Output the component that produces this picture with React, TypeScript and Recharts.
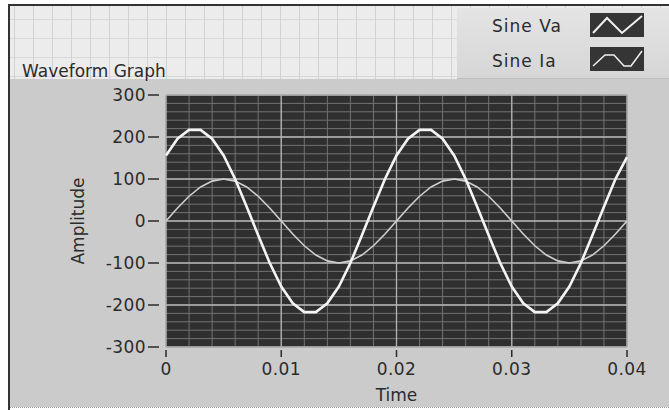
import { LineChart, Line, XAxis, YAxis, CartesianGrid } from "recharts";

const TIME = [
  0, 0.001, 0.002, 0.003, 0.004, 0.005, 0.006, 0.007, 0.008, 0.009,
  0.01, 0.011, 0.012, 0.013, 0.014, 0.015, 0.016, 0.017, 0.018, 0.019,
  0.02, 0.021, 0.022, 0.023, 0.024, 0.025, 0.026, 0.027, 0.028, 0.029,
  0.03, 0.031, 0.032, 0.033, 0.034, 0.035, 0.036, 0.037, 0.038, 0.039,
  0.04,
];
const SINE_VA = [
  156, 196, 217, 217, 196, 156, 100, 34, -34, -100,
  -156, -196, -217, -217, -196, -156, -100, -34, 34, 100,
  156, 196, 217, 217, 196, 156, 100, 34, -34, -100,
  -156, -196, -217, -217, -196, -156, -100, -34, 34, 100,
  152,
];
const SINE_IA = [
  0, 31, 59, 81, 95, 100, 95, 81, 59, 31,
  0, -31, -59, -81, -95, -100, -95, -81, -59, -31,
  0, 31, 59, 81, 95, 100, 95, 81, 59, 31,
  0, -31, -59, -81, -95, -100, -95, -81, -59, -31,
  0,
];
const SERIES_NAMES = ["Sine Va", "Sine Ia"];
const X_TICKS = [0, 0.01, 0.02, 0.03, 0.04];
const X_TICK_LABELS = ["0", "0.01", "0.02", "0.03", "0.04"];
const Y_TICKS = [-300, -200, -100, 0, 100, 200, 300];

const data = TIME.map((t, i) => ({ t, va: SINE_VA[i], ia: SINE_IA[i] }));

// grid: minor every 0.002 s / 20 units
const X_MINOR = Array.from({ length: 21 }, (_, i) => +(i * 0.002).toFixed(3));
const Y_MINOR = Array.from({ length: 31 }, (_, i) => -300 + i * 20);

const FONT = "DejaVu Sans";
const INK = "#2b2b2b";

const YTick = (props: any) => {
  const { x, y, payload } = props;
  return (
    <g>
      <line x1={x - 18} x2={x - 7} y1={y} y2={y} stroke={INK} strokeWidth={1.5} />
      <text x={x - 20} y={y} dy={6} textAnchor="end" fontSize={17} letterSpacing={0.4} fontFamily={FONT} fill={INK}>
        {payload.value}
      </text>
    </g>
  );
};

const XTick = (props: any) => {
  const { x, y, payload } = props;
  const label = X_TICK_LABELS[X_TICKS.indexOf(payload.value)] ?? String(payload.value);
  return (
    <g>
      <line x1={x} x2={x} y1={y + 3} y2={y + 10} stroke={INK} strokeWidth={1.5} />
      <text x={x} y={y + 28} textAnchor="middle" fontSize={17} letterSpacing={0.4} fontFamily={FONT} fill={INK}>
        {label}
      </text>
    </g>
  );
};

const AmpLabel = (props: any) => {
  const vb = props.viewBox || { x: 66, y: 95, width: 100, height: 252 };
  const cx = vb.x + 12;
  const cy = vb.y + vb.height / 2;
  return (
    <text
      transform={`translate(${cx},${cy}) rotate(-90)`}
      textAnchor="middle"
      dominantBaseline="central"
      fontSize={17}
      fontFamily={FONT}
      fill={INK}
    >
      Amplitude
    </text>
  );
};

const TimeLabel = (props: any) => {
  const vb = props.viewBox || { x: 166, y: 347, width: 461, height: 60 };
  return (
    <text x={vb.x + vb.width / 2} y={vb.y + 54} textAnchor="middle" fontSize={17} fontFamily={FONT} fill={INK}>
      Time
    </text>
  );
};

function Swatch({ thin }: { thin?: boolean }) {
  const pts = thin ? "3,19 15,8 24,8 34,19 41,19 52,4" : "3,20 17,5 32,20 52,3";
  return (
    <svg width={54} height={24} style={{ display: "block", background: "#353535" }}>
      <polyline points={pts} fill="none" stroke="#f0f0f0" strokeWidth={thin ? 1.5 : 2} />
    </svg>
  );
}

export default function App() {
  return (
    <div style={{ position: "relative", width: 669, height: 410, overflow: "hidden", background: "#ffffff" }}>
      <style>{"body{margin:0}"}</style>
      {/* front panel grid area */}
      <div
        style={{
          position: "absolute",
          left: 10,
          top: 5,
          width: 659,
          height: 74,
          background: "#ececec",
          backgroundImage:
            "linear-gradient(to right, #d2d2d2 1px, transparent 1px), linear-gradient(to bottom, #d8d8d8 1px, transparent 1px)",
          backgroundSize: "19px 19px",
          backgroundPosition: "4px 14px",
        }}
      />
      {/* graph panel */}
      <div style={{ position: "absolute", left: 10, top: 79, width: 659, height: 328, background: "#cbcbcb" }} />
      <div style={{ position: "absolute", left: 10, top: 407, width: 659, height: 1, borderTop: "1px dotted #9a9a9a" }} />
      {/* frame */}
      <div style={{ position: "absolute", left: 8, top: 4, width: 661, height: 2, background: "#333" }} />
      <div style={{ position: "absolute", left: 8, top: 4, width: 2, height: 406, background: "#333" }} />
      {/* title */}
      <div
        style={{
          position: "absolute",
          left: 22,
          top: 61,
          fontFamily: FONT,
          fontSize: 17,
          color: INK,
          lineHeight: "20px",
          whiteSpace: "nowrap",
        }}
      >
        Waveform Graph
      </div>
      {/* legend */}
      <div
        style={{
          position: "absolute",
          left: 457,
          top: 8,
          width: 212,
          height: 70,
          background: "linear-gradient(to bottom, #e4e4e4, #d6d6d6)",
          borderBottom: "1px solid #bdbdbd",
        }}
      >
        {SERIES_NAMES.map((name, i) => (
          <div key={name}>
            <div
              style={{
                position: "absolute",
                left: 35,
                top: 7 + i * 35,
                fontFamily: FONT,
                fontSize: 17,
                letterSpacing: 1,
                color: INK,
                lineHeight: "22px",
                whiteSpace: "nowrap",
              }}
            >
              {name}
            </div>
            <div style={{ position: "absolute", left: 133, top: 5 + i * 34 }}>
              <Swatch thin={i === 1} />
            </div>
          </div>
        ))}
      </div>
      <div style={{ position: "absolute", left: 0, top: 0 }}>
        <LineChart width={669} height={410} data={data} margin={{ top: 95, right: 42, bottom: 3, left: 66 }}>
          <CartesianGrid
            fill="#2f2f2f"
            stroke="#727272"
            strokeWidth={1}
            horizontalValues={Y_MINOR}
            verticalValues={X_MINOR}
          />
          <CartesianGrid
            stroke="#b4b4b4"
            strokeWidth={1.3}
            horizontalValues={Y_TICKS}
            verticalValues={X_TICKS}
          />
          <XAxis
            type="number"
            dataKey="t"
            domain={[0, 0.04]}
            ticks={X_TICKS}
            height={60}
            axisLine={false}
            tickLine={false}
            tickSize={0}
            tickMargin={0}
            tick={<XTick />}
            interval={0}
            label={<TimeLabel />}
          />
          <YAxis
            type="number"
            domain={[-300, 300]}
            ticks={Y_TICKS}
            width={100}
            axisLine={false}
            tickLine={false}
            tickSize={0}
            tickMargin={0}
            tick={<YTick />}
            interval={0}
            label={<AmpLabel />}
          />
          <Line
            type="linear"
            dataKey="ia"
            name={SERIES_NAMES[1]}
            stroke="#cfcfcf"
            strokeWidth={1.6}
            dot={false}
            isAnimationActive={false}
          />
          <Line
            type="linear"
            dataKey="va"
            name={SERIES_NAMES[0]}
            stroke="#f4f4f4"
            strokeWidth={2.6}
            dot={false}
            isAnimationActive={false}
          />
        </LineChart>
      </div>
    </div>
  );
}
